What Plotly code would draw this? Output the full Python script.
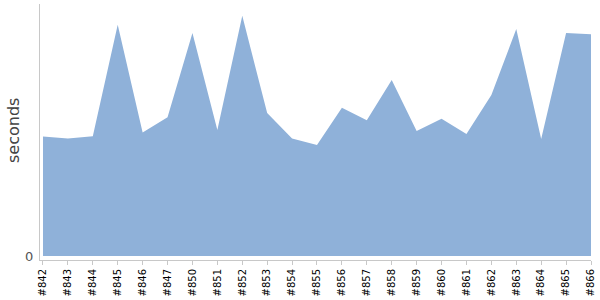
import plotly.graph_objects as go

builds = ["#842", "#843", "#844", "#845", "#846", "#847", "#850", "#851", "#852",
          "#853", "#854", "#855", "#856", "#857", "#858", "#859", "#860", "#861",
          "#862", "#863", "#864", "#865", "#866"]
seconds = [60.5, 59.5, 60.6, 117.0, 62.5, 70.2, 112.8, 63.7, 121.5,
           72.3, 59.5, 56.2, 75.0, 68.7, 89.0, 63.2, 69.5, 61.7,
           81.5, 114.8, 59.2, 112.8, 112.2]

fig = go.Figure()
fig.add_trace(go.Scatter(
    x=list(range(len(builds))), y=seconds, mode="lines",
    line=dict(width=0, color="#8fb1d9"),
    fill="tozeroy", fillcolor="#8fb1d9",
    hoverinfo="skip", showlegend=False,
))

fig.add_annotation(
    text="seconds", textangle=-90, showarrow=False,
    xref="paper", yref="paper", x=0, y=0.5,
    xanchor="center", yanchor="middle", xshift=-27, yshift=1,
    font=dict(family="DejaVu Sans", size=16, color="#444"),
)

fig.update_layout(
    width=600, height=300,
    margin=dict(l=40, r=9, t=4, b=37),
    paper_bgcolor="white", plot_bgcolor="white",
    font=dict(family="DejaVu Sans", color="#444"),
    xaxis=dict(
        tickmode="array", tickvals=list(range(len(builds))), ticktext=builds,
        tickangle=-90, tickfont=dict(size=10, color="#000"),
        range=[-0.12, len(builds) - 1],
        showgrid=False, zeroline=False,
        showline=True, linecolor="#c8c8c8", linewidth=1,
        ticks="outside", ticklen=4, tickcolor="#c8c8c8",
    ),
    yaxis=dict(
        range=[-2, 127.5],
        tickmode="array", tickvals=[0], ticktext=["0"],
        tickfont=dict(size=13, color="#555"),
        showgrid=False, zeroline=False,
        showline=True, linecolor="#c8c8c8", linewidth=1,
        ticks="", ticklabelstandoff=3,
    ),
)

fig.write_html("out.html")
